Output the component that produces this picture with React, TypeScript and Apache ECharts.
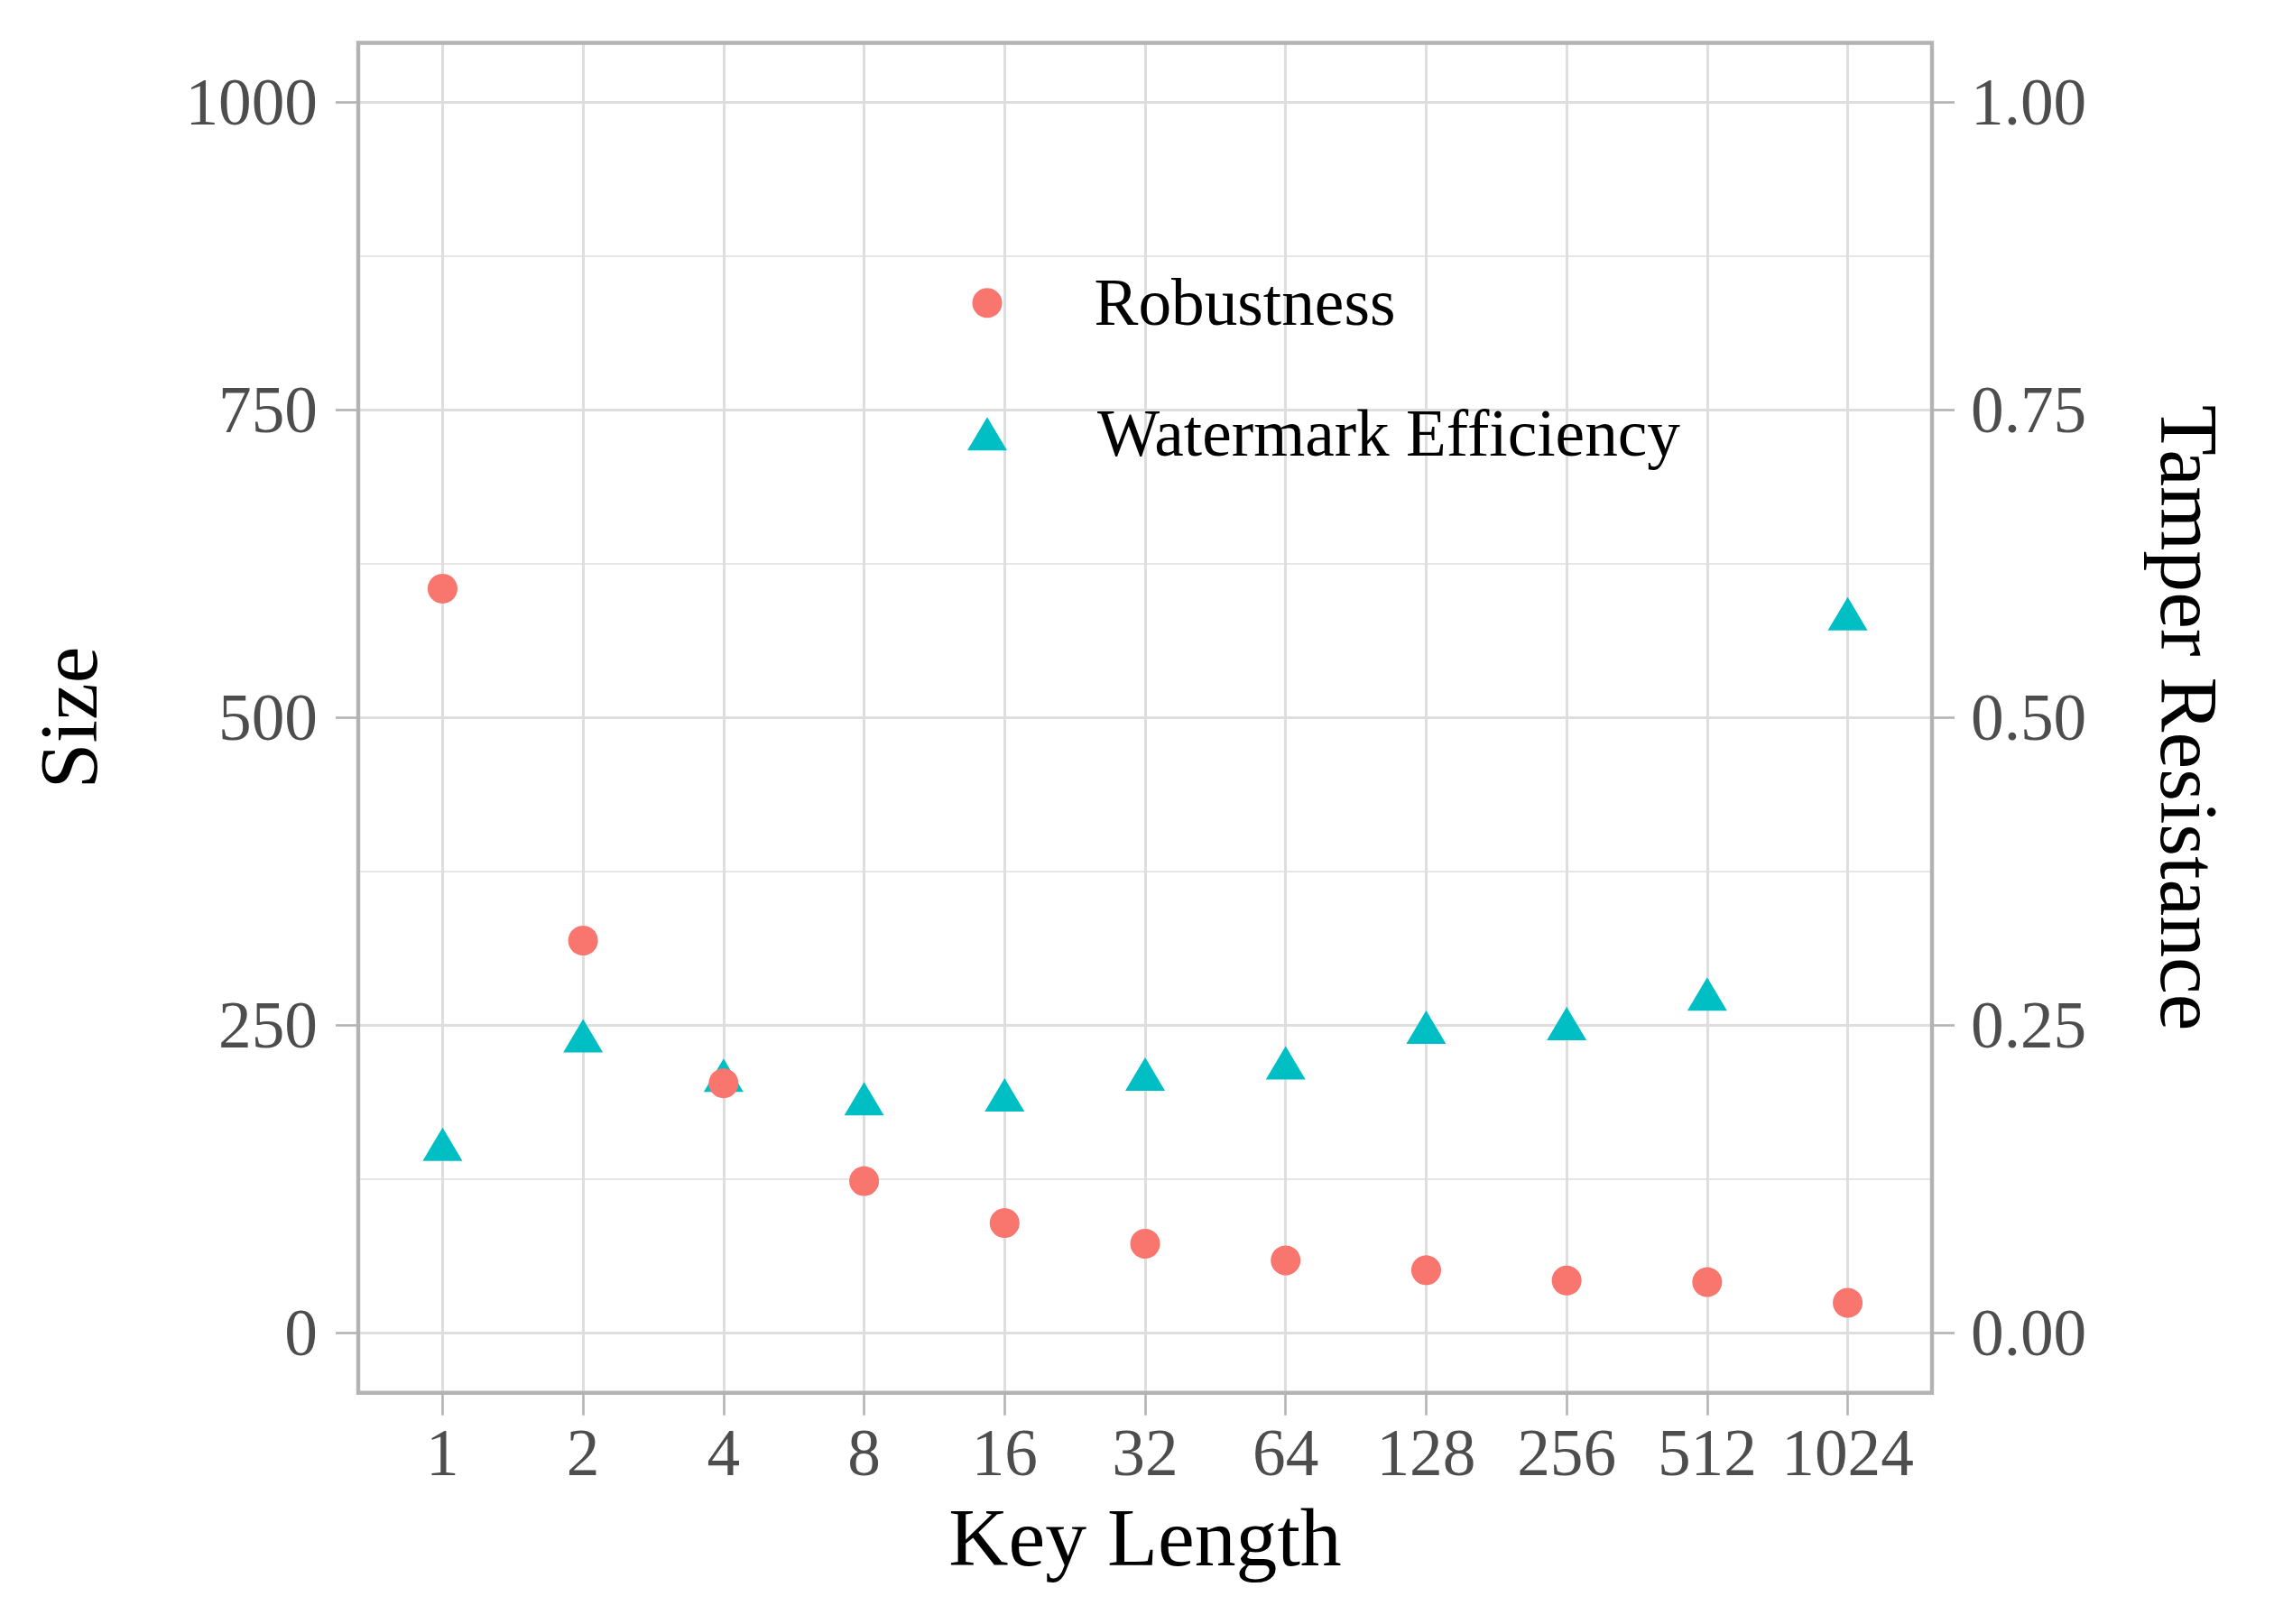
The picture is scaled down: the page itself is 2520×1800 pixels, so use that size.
import React, { useEffect, useRef } from "react";
import * as echarts from "echarts";

// ---- data ----
const keyLengths: string[] = ["1", "2", "4", "8", "16", "32", "64", "128", "256", "512", "1024"];
const robustness: number[] = [605, 319, 203, 123.5, 89.4, 72.6, 59.1, 51.1, 42.7, 41.4, 24.6];
const watermarkEfficiency: number[] = [0.149, 0.237, 0.205, 0.186, 0.189, 0.206, 0.215, 0.244, 0.247, 0.271, 0.58];
const leftTicks: number[] = [0, 250, 500, 750, 1000];
const leftMinorTicks: number[] = [125, 375, 625, 875];
const rightTicks: number[] = [0, 0.25, 0.5, 0.75, 1];

const W = 2520;
const H = 1800;
const GL = 397;
const GR = 379;
const GT = 47.5;
const GB = 256.3;
const FONT = "'Liberation Serif', 'Times New Roman', serif";
const RED = "#F8766D";
const TEAL = "#00BFC4";
const GRID = "#dedede";
const BORDER = "#b3b3b3";
const LABEL = "#4d4d4d";

export default function App() {
  const ref = useRef<HTMLDivElement>(null);
  useEffect(() => {
    document.body.style.margin = "0";
    const chart = echarts.init(ref.current!, null, { renderer: "svg", width: W, height: H });
    const idx = keyLengths.map((_, i) => i);
    const tickLabel = { fontFamily: FONT, fontSize: 73.3, color: LABEL };
    const noLine = { show: false, onZero: false };
    const option: any = {
      animation: false,
      backgroundColor: "#ffffff",
      textStyle: { fontFamily: FONT },
      grid: { left: GL, right: GR, top: GT, bottom: GB, containLabel: false, outerBoundsMode: "none" },
      legend: [
        {
          data: ["Robustness"],
          orient: "vertical",
          left: 1077.5,
          top: 299.3,
          padding: 0,
          itemWidth: 33,
          itemHeight: 33,
          selectedMode: false,
          textStyle: { fontFamily: FONT, fontSize: 73.3, color: "#000000", padding: [0, 0, 0, 97] },
        },
        {
          data: ["Watermark Efficiency"],
          orient: "vertical",
          left: 1072,
          top: 444.3,
          padding: 0,
          itemWidth: 44,
          itemHeight: 37,
          selectedMode: false,
          textStyle: { fontFamily: FONT, fontSize: 73.3, color: "#000000", padding: [0, 0, 0, 95] },
        },
      ],
      xAxis: {
        type: "value",
        min: -0.6,
        max: 10.6,
        name: "Key Length",
        nameLocation: "middle",
        nameGap: 114.5,
        nameTextStyle: { fontFamily: FONT, fontSize: 91.7, color: "#000000" },
        axisLine: noLine,
        axisTick: { show: true, length: 25, customValues: idx, lineStyle: { color: BORDER, width: 2.6 } },
        axisLabel: {
          ...tickLabel,
          margin: 30,
          customValues: idx,
          formatter: (v: number) => keyLengths[Math.round(v)] ?? "",
        },
        splitLine: { show: true, lineStyle: { color: GRID, width: 3 } },
      },
      yAxis: [
        {
          type: "value",
          position: "left",
          min: -48.5,
          max: 1048.5,
          name: "Size",
          nameLocation: "middle",
          nameRotate: 90,
          nameGap: 275,
          nameTextStyle: { fontFamily: FONT, fontSize: 91.7, color: "#000000" },
          axisLine: noLine,
          axisTick: { show: true, length: 25, customValues: leftTicks, lineStyle: { color: BORDER, width: 2.6 } },
          axisLabel: { ...tickLabel, margin: 45, customValues: leftTicks, formatter: (v: number) => String(v) },
          splitLine: { show: true, lineStyle: { color: GRID, width: 3 } },
        },
        {
          type: "value",
          position: "right",
          min: -0.0485,
          max: 1.0485,
          name: "Tamper Resistance",
          nameLocation: "middle",
          nameRotate: -90,
          nameGap: 239,
          nameTextStyle: { fontFamily: FONT, fontSize: 91.7, color: "#000000" },
          axisLine: noLine,
          axisTick: { show: true, length: 25, customValues: rightTicks, lineStyle: { color: BORDER, width: 2.6 } },
          axisLabel: { ...tickLabel, margin: 43, customValues: rightTicks, formatter: (v: number) => v.toFixed(2) },
          splitLine: { show: false },
        },
        {
          type: "value",
          position: "left",
          min: -48.5,
          max: 1048.5,
          axisLine: noLine,
          axisTick: { show: false, customValues: leftMinorTicks },
          axisLabel: { show: false, customValues: leftMinorTicks },
          splitLine: { show: true, lineStyle: { color: GRID, width: 1.6 } },
        },
      ],
      series: [
        {
          name: "Robustness",
          type: "scatter",
          yAxisIndex: 0,
          symbol: "circle",
          symbolSize: 33,
          itemStyle: { color: RED, opacity: 1 },
          data: robustness.map((v, i) => [i, v]),
          z: 3,
        },
        {
          name: "Watermark Efficiency",
          type: "scatter",
          yAxisIndex: 1,
          symbol: "triangle",
          symbolSize: [44, 37],
          symbolOffset: [0, -6.2],
          itemStyle: { color: TEAL, opacity: 1 },
          data: watermarkEfficiency.map((v, i) => [i, v]),
          z: 2,
        },
      ],
      graphic: [
        {
          type: "rect",
          z: 100,
          silent: true,
          shape: { x: GL, y: GT, width: W - GL - GR, height: H - GT - GB },
          style: { fill: "none", stroke: BORDER, lineWidth: 4.4 },
        },
      ],
    };
    chart.setOption(option);
    return () => chart.dispose();
  }, []);
  return (
    <div
      ref={ref}
      style={{ position: "absolute", left: 0, top: 0, width: W, height: H, background: "#ffffff" }}
    />
  );
}
